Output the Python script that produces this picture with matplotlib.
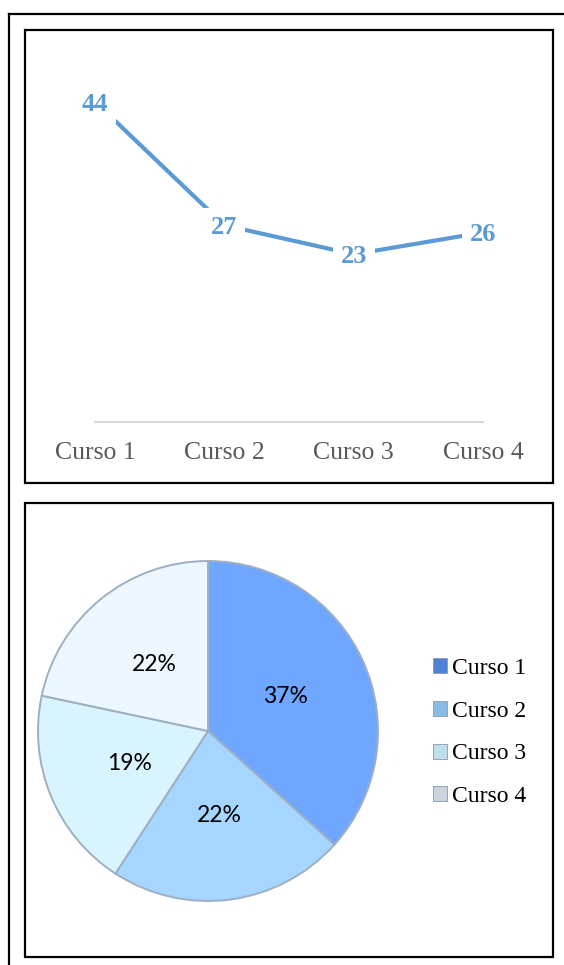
import numpy as np
import matplotlib.pyplot as plt
from matplotlib.patches import Rectangle, Patch
from matplotlib.lines import Line2D

W, H = 564, 965

cursos = ['Curso 1', 'Curso 2', 'Curso 3', 'Curso 4']
alumnos = [44, 27, 23, 26]
pct_labels = ['37%', '22%', '19%', '22%']

line_color = '#5B9BD5'
pie_colors = ['#6FA6FF', '#A6D6FF', '#D8F5FF', '#ECF7FF']
legend_colors = ['#4F82D6', '#86BCE6', '#BFDDEB', '#CDD3DC']


def px_box(x0, y0, x1, y1):
    # pixel coords (top-left origin) -> figure fraction [left, bottom, width, height]
    return [x0 / W, 1 - y1 / H, (x1 - x0) / W, (y1 - y0) / H]


fig = plt.figure(figsize=(W / 100, H / 100), dpi=100)
fig.patch.set_facecolor('white')

# frames
def frame(x0, y0, x1, y1, lw=1.6):
    l, b, w, h = px_box(x0, y0, x1, y1)
    fig.patches.append(Rectangle((l, b), w, h, transform=fig.transFigure,
                                 fill=False, edgecolor='black', linewidth=lw))

fig.add_artist(Line2D([9 / W, 9 / W], [0, 1 - 13.5 / H], transform=fig.transFigure,
                      color='black', lw=1.6))
fig.add_artist(Line2D([9 / W, 1], [1 - 13.5 / H, 1 - 13.5 / H], transform=fig.transFigure,
                      color='black', lw=1.6))
frame(24.5, 30, 553, 482.5)
frame(24.5, 503, 553, 957)

# line chart
x = np.arange(len(cursos))
ax = fig.add_axes(px_box(30.3, 58, 547.7, 421.5))
ax.set_xlim(-0.5, 3.5)
ax.set_ylim(0, 50)
ax.plot(x, alumnos, color=line_color, lw=3, solid_capstyle='butt', zorder=2)
for xi, v in zip(x, alumnos):
    ax.text(xi, v, str(v), ha='center', va='center_baseline', color=line_color,
            fontsize=19, fontweight='bold', family='Liberation Serif', zorder=3,
            bbox=dict(boxstyle='square,pad=0.3', fc='white', ec='none'))
ax.plot([0, 3], [0, 0], color='#D9D9D9', lw=1.5, clip_on=False)
for xi, c in zip(x, cursos):
    ax.text(xi, -4.4, c, ha='center', va='center', color='#595959',
            fontsize=18.5, family='Liberation Serif')
ax.axis('off')

# pie chart
cx, cy, r = 208, 731, 170
pax = fig.add_axes(px_box(cx - r, cy - r, cx + r, cy + r))
wedges, _ = pax.pie(alumnos, colors=pie_colors, startangle=90, counterclock=False,
                    radius=1, wedgeprops=dict(edgecolor='#9FAFC2', linewidth=1.4))
for w_, lab in zip(wedges, pct_labels):
    ang = np.deg2rad((w_.theta1 + w_.theta2) / 2)
    pax.text(0.5 * np.cos(ang), 0.5 * np.sin(ang), lab, ha='center', va='center',
             fontsize=16.5, family='Lato', color='black')
pax.set_xlim(-1, 1)
pax.set_ylim(-1, 1)
pax.axis('off')

handles = [Patch(facecolor=c, edgecolor='#8A99AA', linewidth=0.6) for c in legend_colors]
fig.legend(handles, cursos, loc='upper left', bbox_to_anchor=(433 / W, 1 - 658 / H),
           frameon=False, prop={'family': 'Liberation Serif', 'size': 17},
           handlelength=0.6, handleheight=0.6, handletextpad=0.2,
           labelspacing=0.92, borderpad=0, borderaxespad=0)

fig.savefig('out.png', dpi=100)
